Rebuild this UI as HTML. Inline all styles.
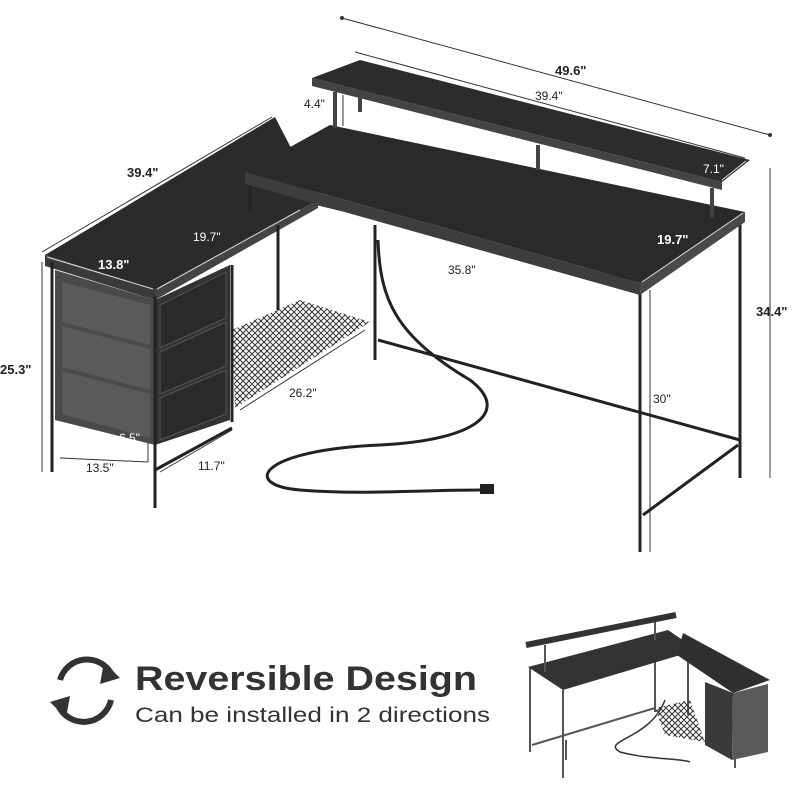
<!DOCTYPE html>
<html><head><meta charset="utf-8"><style>
html,body{margin:0;padding:0;background:#fff;width:800px;height:800px;overflow:hidden}
svg{display:block}
text{font-family:"Liberation Sans",sans-serif;fill:#222}
.b{font-weight:bold;font-size:13px}
.n{font-size:12px}
.w{fill:#fff}
</style></head><body>
<svg width="800" height="800" viewBox="0 0 800 800" xmlns="http://www.w3.org/2000/svg">
<g stroke="#333" stroke-width="1" fill="none">
<line x1="342" y1="18" x2="770" y2="135"/><circle cx="342" cy="18" r="1.5" fill="#333"/><circle cx="770" cy="135" r="1.5" fill="#333"/>
<line x1="355" y1="52" x2="745" y2="158"/>
<line x1="42" y1="252" x2="272" y2="117"/>
<line x1="42" y1="262" x2="42" y2="472"/>
<line x1="770" y1="168" x2="770" y2="478"/>
<line x1="343" y1="95" x2="343" y2="126"/>
<line x1="650" y1="290" x2="650" y2="552"/>
<line x1="148" y1="420" x2="148" y2="462"/>
<line x1="60" y1="458" x2="148" y2="462"/>
<line x1="160" y1="472" x2="232" y2="430"/>
<line x1="240" y1="410" x2="365" y2="330"/>
<line x1="318" y1="205" x2="640" y2="282"/>
</g>
<!-- left wing top -->
<polygon points="45,255 275,117 318,200 155,290" fill="#2b2b2b"/>
<polygon points="45,255 155,290 155,300 45,266" fill="#3a3a3a"/>
<polygon points="155,290 318,200 318,208 155,300" fill="#444"/>
<g stroke="#ddd" stroke-width="1"><line x1="47" y1="257" x2="153" y2="289"/><line x1="157" y1="289" x2="300" y2="210"/></g>
<!-- cabinet -->
<polygon points="55,270 155,300 155,445 55,420" fill="#4a4a4a"/>
<polygon points="62,282 150,305 150,345 62,322" fill="#5a5a5a"/>
<polygon points="62,326 150,349 150,390 62,367" fill="#5a5a5a"/>
<polygon points="62,371 150,394 150,438 62,414" fill="#5a5a5a"/>
<polygon points="155,300 230,265 230,420 155,445" fill="#333"/>
<polygon points="160,305 226,272 226,318 160,348" fill="#2a2a2a" stroke="#555"/>
<polygon points="160,352 226,322 226,366 160,394" fill="#2a2a2a" stroke="#555"/>
<polygon points="160,398 226,370 226,414 160,440" fill="#2a2a2a" stroke="#555"/>
<!-- mesh shelf -->
<defs><pattern id="m" width="6" height="6" patternUnits="userSpaceOnUse"><path d="M0,0 L6,6 M6,0 L0,6" stroke="#333" stroke-width="1"/></pattern></defs>
<polygon points="232,330 300,300 370,322 235,408" fill="url(#m)"/>
<g stroke="#222" stroke-width="3">
<line x1="52" y1="262" x2="52" y2="472"/><line x1="155" y1="296" x2="155" y2="508"/>
<line x1="232" y1="265" x2="232" y2="422"/><line x1="278" y1="225" x2="278" y2="310"/>
<line x1="155" y1="470" x2="232" y2="428"/>
<line x1="375" y1="225" x2="375" y2="360"/><line x1="378" y1="340" x2="740" y2="440"/>
<line x1="640" y1="285" x2="640" y2="552"/><line x1="740" y1="218" x2="740" y2="478"/>
<line x1="643" y1="515" x2="738" y2="445"/><line x1="250" y1="185" x2="250" y2="210"/>
</g>
<!-- main desk top -->
<polygon points="245,172 330,125 745,212 640,283" fill="#2a2a2a"/>
<polygon points="245,172 640,283 640,295 245,184" fill="#3d3d3d"/>
<polygon points="640,283 745,212 745,222 640,295" fill="#4a4a4a"/>
<line x1="642" y1="282" x2="743" y2="213" stroke="#ddd" stroke-width="1"/>
<!-- monitor shelf -->
<g stroke="#444" stroke-width="4"><line x1="335" y1="92" x2="335" y2="128"/><line x1="538" y1="145" x2="538" y2="170"/><line x1="712" y1="188" x2="712" y2="218"/><line x1="360" y1="80" x2="360" y2="112"/></g>
<polygon points="312,78 360,60 750,160 722,182" fill="#2c2c2c"/>
<polygon points="312,78 722,182 722,190 312,86" fill="#444"/>
<line x1="722" y1="180" x2="746" y2="161" stroke="#ddd" stroke-width="1"/>
<!-- cord -->
<path d="M378,240 C380,300 395,335 470,380 C510,410 480,440 380,445 C260,450 240,485 300,490 C360,495 420,490 480,490" stroke="#222" stroke-width="3" fill="none"/>
<rect x="480" y="484" width="14" height="10" fill="#222"/>
<!-- labels -->
<text x="555" y="75" class="b">49.6"</text>
<text x="535" y="100" class="n">39.4"</text>
<text x="127" y="177" class="b">39.4"</text>
<text x="304" y="108" class="n">4.4"</text>
<text x="703" y="173" class="n w">7.1"</text>
<text x="193" y="241" class="n w">19.7"</text>
<text x="98" y="269" class="b w">13.8"</text>
<text x="0" y="374" class="b">25.3"</text>
<text x="657" y="244" class="b w">19.7"</text>
<text x="448" y="274" class="n">35.8"</text>
<text x="756" y="316" class="b">34.4"</text>
<text x="289" y="397" class="n">26.2"</text>
<text x="653" y="403" class="n">30"</text>
<text x="119" y="442" class="n w">6.5"</text>
<text x="86" y="472" class="n">13.5"</text>
<text x="198" y="470" class="n">11.7"</text>
<!-- icon -->
<g fill="none" stroke="#333" stroke-width="6">
<path d="M60,680 A28,28 0 0 1 112,675"/><path d="M111,700 A28,28 0 0 1 58,705"/>
</g>
<polygon points="104,662 120,678 100,684" fill="#333"/><polygon points="66,718 50,702 70,696" fill="#333"/>
<text x="135" y="690" textLength="342" lengthAdjust="spacingAndGlyphs" style="font-weight:bold;font-size:34px;fill:#333">Reversible Design</text>
<text x="135" y="722" textLength="355" lengthAdjust="spacingAndGlyphs" style="font-size:21px;fill:#333">Can be installed in 2 directions</text>
<!-- thumbnail -->
<g stroke="#555" stroke-width="2">
<line x1="530" y1="668" x2="530" y2="752"/><line x1="563" y1="690" x2="563" y2="778"/>
<line x1="655" y1="660" x2="655" y2="712"/><line x1="688" y1="650" x2="688" y2="715"/>
<line x1="532" y1="745" x2="655" y2="708"/><line x1="735" y1="750" x2="735" y2="768"/>
<line x1="566" y1="740" x2="566" y2="760"/>
</g>
<polygon points="655,708 690,700 705,742 665,735" fill="url(#m)"/>
<polygon points="528,667 563,690 697,650 668,630" fill="#333"/>
<polygon points="683,633 770,680 733,693 677,655" fill="#2f2f2f"/>
<polygon points="705,682 733,693 732,760 705,745" fill="#3a3a3a"/>
<polygon points="733,693 768,684 768,752 732,760" fill="#5a5a5a"/>
<line x1="526" y1="645" x2="676" y2="615" stroke="#333" stroke-width="6"/>
<g stroke="#555" stroke-width="2"><line x1="545" y1="645" x2="545" y2="672"/><line x1="655" y1="622" x2="655" y2="640"/></g>
<path d="M665,700 C650,740 600,740 620,752 C650,760 680,758 690,762" stroke="#333" stroke-width="1.5" fill="none"/>
</svg>
</body></html>
